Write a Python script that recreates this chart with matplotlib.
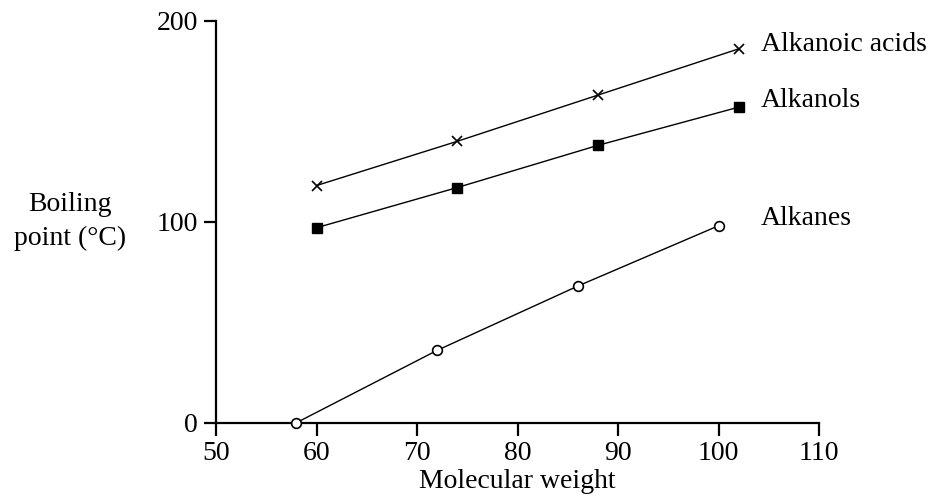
import matplotlib.pyplot as plt

plt.rcParams['font.family'] = ['Liberation Serif', 'DejaVu Serif']

# molecular weights and boiling points (deg C)
acid_mw = [60, 74, 88, 102]
acid_bp = [118, 140, 163, 186]
alcohol_mw = [60, 74, 88, 102]
alcohol_bp = [97, 117, 138, 157]
alkane_mw = [58, 72, 86, 100]
alkane_bp = [0, 36, 68, 98]

x_ticks = [50, 60, 70, 80, 90, 100, 110]
y_ticks = [0, 100, 200]

fig = plt.figure(figsize=(9.34, 4.98), dpi=100)
ax = fig.add_axes([0.2313, 0.1512, 0.6457, 0.8072])

ax.plot(acid_mw, acid_bp, color='black', lw=1, marker='x', ms=7, mew=1.2, clip_on=False)
ax.plot(alcohol_mw, alcohol_bp, color='black', lw=1, marker='s', ms=7, clip_on=False)
ax.plot(alkane_mw, alkane_bp, color='black', lw=1, marker='o', ms=7, mfc='white', mew=1.2, clip_on=False, zorder=5)

fs = 20
ax.text(104.2, 188, 'Alkanoic acids', fontsize=fs, va='center', ha='left')
ax.text(104.2, 160.5, 'Alkanols', fontsize=fs, va='center', ha='left')
ax.text(104.2, 101.5, 'Alkanes', fontsize=fs, va='center', ha='left')

ax.set_xlim(50, 110)
ax.set_ylim(0, 200)
ax.set_xticks(x_ticks)
ax.set_yticks(y_ticks)
ax.spines['top'].set_visible(False)
ax.spines['right'].set_visible(False)
for s in ['left', 'bottom']:
    ax.spines[s].set_linewidth(1.6)
ax.tick_params(direction='out', length=9, width=1.6, labelsize=fs, pad=4)

ax.set_xlabel('Molecular weight', fontsize=fs, labelpad=2)
fig.text(0.075, 0.555, 'Boiling\npoint (°C)', fontsize=fs, ha='center', va='center',
         linespacing=1.45)

fig.savefig('out.png', dpi=100)
